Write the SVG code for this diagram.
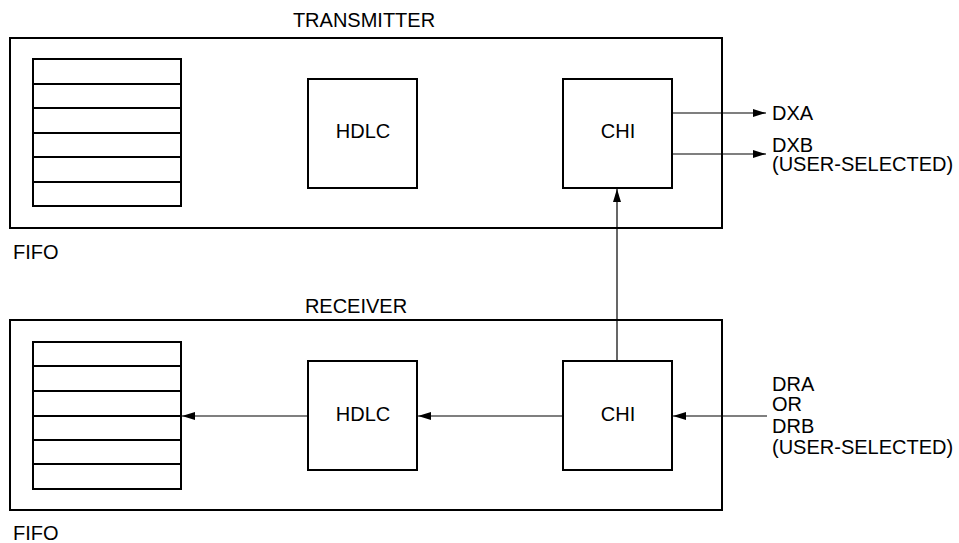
<svg xmlns="http://www.w3.org/2000/svg" width="959" height="543" viewBox="0 0 959 543">
<defs>
<style>
.box{fill:none;stroke:#000;stroke-width:2}
.blk{fill:#fff;stroke:#000;stroke-width:2}
.fl{stroke:#000;stroke-width:2}
.con{stroke:#000;stroke-width:1.2;fill:none;marker-end:url(#ah)}
text{font-family:"Liberation Sans",Arial,sans-serif;font-size:20px;fill:#000}
.c{text-anchor:middle}
</style>
<marker id="ah" markerUnits="userSpaceOnUse" markerWidth="14" markerHeight="8" refX="13" refY="4" orient="auto">
<path d="M0,0 L13,4 L0,8 z" fill="#000"/>
</marker>
</defs>
<rect width="959" height="543" fill="#fff"/>
<g id="transmitter">
<rect class="box" x="10" y="38" width="712" height="190"/>
<text class="c" x="364" y="27">TRANSMITTER</text>
</g>
<g id="tx-fifo">
<rect class="blk" x="33" y="59" width="148" height="147"/>
<line class="fl" x1="33" y1="84" x2="181" y2="84"/>
<line class="fl" x1="33" y1="108" x2="181" y2="108"/>
<line class="fl" x1="33" y1="133" x2="181" y2="133"/>
<line class="fl" x1="33" y1="157" x2="181" y2="157"/>
<line class="fl" x1="33" y1="182" x2="181" y2="182"/>
<text x="13" y="259">FIFO</text>
</g>
<g id="tx-hdlc">
<rect class="blk" x="308" y="79" width="109" height="109"/>
<text class="c" x="363" y="138">HDLC</text>
</g>
<g id="tx-chi">
<rect class="blk" x="563" y="79" width="109" height="109"/>
<text class="c" x="618" y="138">CHI</text>
</g>
<g id="receiver">
<rect class="box" x="10" y="320" width="712" height="190"/>
<text class="c" x="356" y="313">RECEIVER</text>
</g>
<g id="rx-fifo">
<rect class="blk" x="33" y="342" width="148" height="147"/>
<line class="fl" x1="33" y1="366" x2="181" y2="366"/>
<line class="fl" x1="33" y1="391" x2="181" y2="391"/>
<line class="fl" x1="33" y1="416" x2="181" y2="416"/>
<line class="fl" x1="33" y1="440" x2="181" y2="440"/>
<line class="fl" x1="33" y1="464" x2="181" y2="464"/>
<text x="13" y="540">FIFO</text>
</g>
<g id="rx-hdlc">
<rect class="blk" x="308" y="361" width="109" height="109"/>
<text class="c" x="363" y="421">HDLC</text>
</g>
<g id="rx-chi">
<rect class="blk" x="563" y="361" width="109" height="109"/>
<text class="c" x="618" y="421">CHI</text>
</g>
<g id="labels">
<text x="772" y="120">DXA</text>
<text x="772" y="152">DXB</text>
<text x="772" y="171">(USER-SELECTED)</text>
<text x="772" y="391">DRA</text>
<text x="772" y="411">OR</text>
<text x="772" y="433">DRB</text>
<text x="772" y="454">(USER-SELECTED)</text>
</g>
<g id="connectors">
<line class="con" x1="672" y1="113" x2="766" y2="113"/>
<line class="con" x1="672" y1="154" x2="766" y2="154"/>
<line class="con" x1="617" y1="361" x2="617" y2="189"/>
<line class="con" x1="767" y1="416" x2="673" y2="416"/>
<line class="con" x1="563" y1="416" x2="418" y2="416"/>
<line class="con" x1="308" y1="416" x2="182" y2="416"/>
</g>
</svg>
